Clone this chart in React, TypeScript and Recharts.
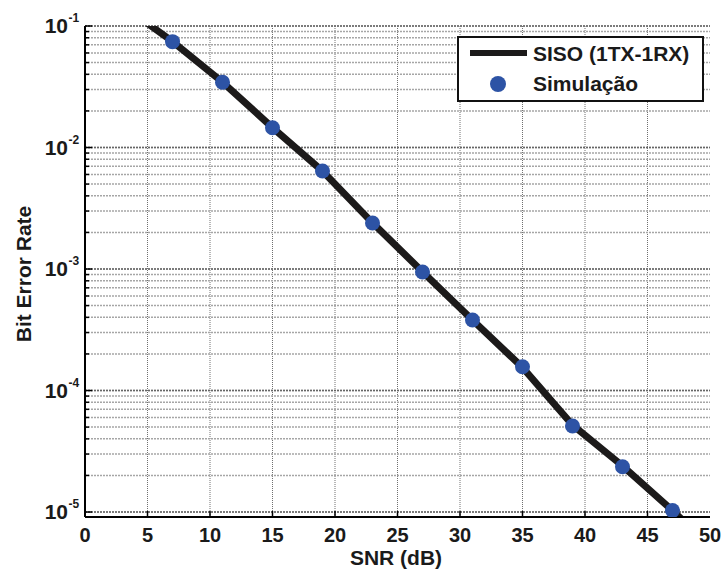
import React from 'react';
import {
  ComposedChart, Line, Scatter, XAxis, YAxis, CartesianGrid, Legend,
} from 'recharts';

// ---- data ----
const snrTicks = [0, 5, 10, 15, 20, 25, 30, 35, 40, 45, 50];
const snrGrid = [5, 10, 15, 20, 25, 30, 35, 40, 45];
const decadeTicks = [1e-5, 1e-4, 1e-3, 1e-2, 1e-1];
const decadeExponents = ['-5', '-4', '-3', '-2', '-1'];
const mantissas = [1, 2, 3, 4, 5, 6, 7, 8, 9];

const theorySnr = [5, 7, 11, 15, 19, 23, 27, 31, 35, 39, 43, 47, 48];
const theoryBer = [0.105, 0.0745, 0.0345, 0.0146, 0.0064, 0.0024, 0.00095, 0.00038, 0.000155, 5.2e-5, 2.4e-5, 1.03e-5, 8.2e-6];

const simSnr = [7, 11, 15, 19, 23, 27, 31, 35, 39, 43, 47];
const simBer = [0.0743, 0.0344, 0.01455, 0.00641, 0.00239, 0.000945, 0.00038, 0.000157, 5.1e-5, 2.36e-5, 1.03e-5];

const Y_DOMAIN: [number, number] = [9.1e-6, 0.1];

const minorValues: number[] = [];
decadeTicks.slice(0, 4).forEach((d) => mantissas.forEach((m) => minorValues.push(m * d)));
minorValues.push(0.1);

const theoryData = theorySnr.map((x, i) => ({ x, y: theoryBer[i] }));
const simData = simSnr.map((x, i) => ({ x, y: simBer[i] }));

// ---- layout ----
const W = 723;
const H = 573;
const PL = 85;
const PR = 710;
const PT = 26;
const PB = 517;
const FONT = '"Liberation Sans", Arial, Helvetica, sans-serif';
const BLUE = '#2d53a5';
const BLACK = '#1c1a1a';

const isMajor = (v: number) => decadeTicks.some((d) => Math.abs(v - d) / d < 1e-6);
const expOf = (v: number) => decadeExponents[decadeTicks.findIndex((d) => Math.abs(v - d) / d < 1e-6)];

const LeftTick = (props: any) => {
  const { y, payload } = props;
  const major = isMajor(payload.value);
  const len = major ? 7 : 4;
  return (
    <g>
      <line x1={PL} x2={PL + len} y1={y} y2={y} stroke="#000" strokeWidth={1.5} />
      {major && (
        <g fontFamily={FONT} fontWeight="bold" fill="#1a1a1a">
          <text x={68} y={y + 7} textAnchor="end" fontSize={21}>10</text>
          <text x={68.5} y={y - 4} textAnchor="start" fontSize={12}>{expOf(payload.value)}</text>
        </g>
      )}
    </g>
  );
};

const RightTick = (props: any) => {
  const { y, payload } = props;
  const len = isMajor(payload.value) ? 7 : 4;
  return <line x1={PR - len} x2={PR} y1={y} y2={y} stroke="#000" strokeWidth={1.5} />;
};

const BottomTick = (props: any) => {
  const { x, payload } = props;
  return (
    <g>
      {payload.value > 0 && payload.value < 50 && (
        <line x1={x} x2={x} y1={PB} y2={PB - 6} stroke="#000" strokeWidth={1.5} />
      )}
      <text x={x} y={542} textAnchor="middle" fontFamily={FONT} fontWeight="bold" fontSize={20} fill="#1a1a1a">
        {payload.value}
      </text>
    </g>
  );
};

const TopTick = (props: any) => {
  const { x, payload } = props;
  if (payload.value <= 0 || payload.value >= 50) return <g />;
  return <line x1={x} x2={x} y1={PT} y2={PT + 6} stroke="#000" strokeWidth={1.5} />;
};

const SimDot = (props: any) => {
  const { cx, cy } = props;
  return <circle cx={cx} cy={cy} r={7.5} fill={BLUE} />;
};

const LegendBox = () => (
  <div
    style={{
      width: 247, height: 66, boxSizing: 'border-box', border: '2px solid #111', background: '#fff',
      position: 'relative', fontFamily: FONT, fontWeight: 'bold', fontSize: 21, color: '#1a1a1a',
    }}
  >
    <svg width={247} height={66} style={{ position: 'absolute', left: -2, top: -2 }}>
      <line x1={13} x2={70} y1={17} y2={17} stroke={BLACK} strokeWidth={6} />
      <circle cx={41} cy={48} r={8} fill={BLUE} />
      <text x={76} y={25} fontFamily={FONT} fontWeight="bold" fontSize={21} fill="#1a1a1a">SISO (1TX-1RX)</text>
      <text x={76} y={55} fontFamily={FONT} fontWeight="bold" fontSize={21} fill="#1a1a1a">Simulação</text>
    </svg>
  </div>
);

export default function App() {
  return (
    <div style={{ position: 'absolute', left: 0, top: 0, width: W, height: H, background: '#fff' }}>
      <ComposedChart width={W} height={H} margin={{ top: PT, right: W - PR, bottom: 0, left: 0 }}>
        <CartesianGrid
          xAxisId="b" yAxisId="l"
          horizontal={false}
          verticalValues={snrGrid}
          stroke="#707070"
          strokeWidth={1}
          strokeDasharray="1 1"
        />
        <CartesianGrid
          xAxisId="b" yAxisId="l"
          vertical={false}
          horizontalValues={minorValues}
          stroke="#a6a6a6"
          strokeWidth={1.5}
          strokeDasharray="2 1"
        />
        <CartesianGrid
          xAxisId="b" yAxisId="l"
          vertical={false}
          horizontalValues={decadeTicks}
          stroke="#666"
          strokeWidth={1.5}
          strokeDasharray="2 1"
        />
        <XAxis
          xAxisId="b" type="number" dataKey="x" domain={[0, 50]} ticks={snrTicks}
          allowDataOverflow orientation="bottom" height={H - PB}
          axisLine={{ stroke: '#000', strokeWidth: 2 }} tickLine={false} tickSize={0} tickMargin={0}
          interval={0} tick={<BottomTick />}
          label={{ content: () => (
            <text x={396} y={565} textAnchor="middle" fontFamily={FONT} fontWeight="bold" fontSize={21} fill="#1a1a1a">SNR (dB)</text>
          ) }}
        />
        <XAxis
          xAxisId="t" type="number" dataKey="x" domain={[0, 50]} ticks={snrTicks}
          allowDataOverflow orientation="top" height={0}
          axisLine={{ stroke: '#000', strokeWidth: 2 }} tickLine={false} tickSize={0} tickMargin={0}
          interval={0} tick={<TopTick />}
        />
        <YAxis
          yAxisId="l" type="number" dataKey="y" scale="log" domain={Y_DOMAIN} allowDataOverflow
          ticks={minorValues} interval={0} width={PL}
          axisLine={{ stroke: '#000', strokeWidth: 2 }} tickLine={false} tickSize={0} tickMargin={0}
          tick={<LeftTick />}
          label={{ content: () => (
            <text x={31} y={274} transform="rotate(-90 31 274)" textAnchor="middle" fontFamily={FONT} fontWeight="bold" fontSize={21} fill="#1a1a1a">Bit Error Rate</text>
          ) }}
        />
        <YAxis
          yAxisId="r" orientation="right" type="number" dataKey="y" scale="log" domain={Y_DOMAIN} allowDataOverflow
          ticks={minorValues} interval={0} width={0}
          axisLine={{ stroke: '#000', strokeWidth: 2 }} tickLine={false} tickSize={0} tickMargin={0}
          tick={<RightTick />}
        />
        <Line
          xAxisId="b" yAxisId="l" data={theoryData} dataKey="y" type="linear"
          stroke={BLACK} strokeWidth={7} dot={false} activeDot={false}
          isAnimationActive={false} name="SISO (1TX-1RX)"
        />
        <Scatter
          xAxisId="b" yAxisId="l" data={simData} dataKey="y" fill={BLUE}
          shape={<SimDot />} isAnimationActive={false} name="Simulação"
        />
        <Legend
          layout="vertical" align="center" verticalAlign="middle"
          wrapperStyle={{ position: 'absolute', left: 457, top: 36, width: 247, height: 66 }}
          content={() => <LegendBox />}
        />
      </ComposedChart>
    </div>
  );
}
